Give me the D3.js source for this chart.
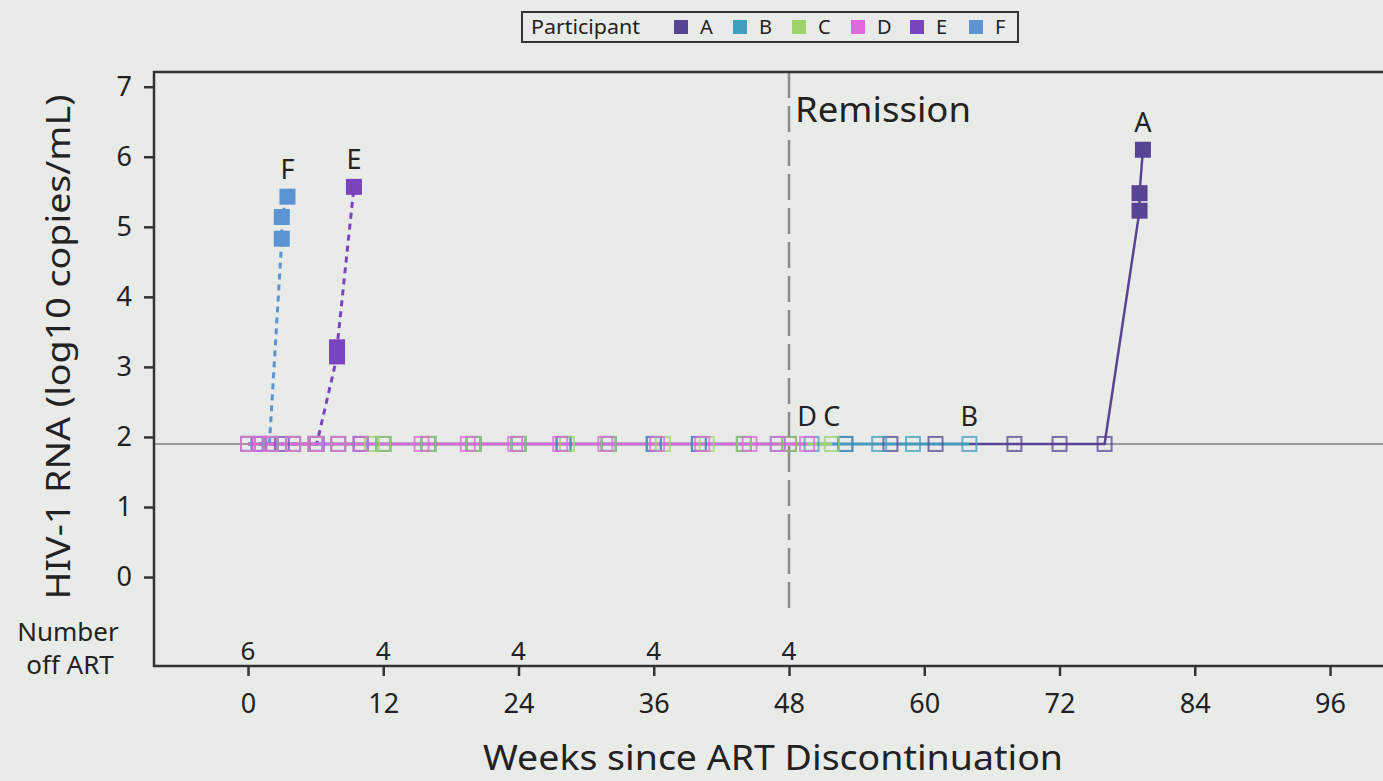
<!DOCTYPE html>
<html>
<head>
<meta charset="utf-8">
<script src="https://cdn.jsdelivr.net/npm/d3@7"></script>
<style>
  body { margin: 0; background: #e9ebe9; overflow: hidden; }
  text { font-family: "Noto Sans", sans-serif; fill: #222; }
</style>
</head>
<body>
<script>
var svg_width = 1383;
var svg_height = 781;

// participants and colours
var participants = ['A', 'B', 'C', 'D', 'E', 'F'];
var colors = ['#574494', '#3f9fbf', '#9ed36a', '#e067de', '#7a44c0', '#5b93d3'];
var dashed = [false, false, false, false, true, true];

// weeks since ART discontinuation / log10 RNA per participant (1.9 = undetectable)
var weeksA = [0, 2, 4, 6, 8, 10, 12, 16, 20, 24, 28, 32, 36, 40, 44, 48, 53, 57, 61, 68, 72, 76, 79.1, 79.1, 79.4];
var rnaA   = [1.9, 1.9, 1.9, 1.9, 1.9, 1.9, 1.9, 1.9, 1.9, 1.9, 1.9, 1.9, 1.9, 1.9, 1.9, 1.9, 1.9, 1.9, 1.9, 1.9, 1.9, 1.9, 5.23, 5.48, 6.1];
var weeksB = [0, 2, 4, 6, 8, 10, 12, 16, 20, 24, 28, 32, 36, 40, 44, 47, 50, 53, 56, 59, 64];
var rnaB   = [1.9, 1.9, 1.9, 1.9, 1.9, 1.9, 1.9, 1.9, 1.9, 1.9, 1.9, 1.9, 1.9, 1.9, 1.9, 1.9, 1.9, 1.9, 1.9, 1.9, 1.9];
var weeksC = [0, 2, 4, 6, 8, 11, 12, 16, 20, 24, 28.3, 32, 36.8, 40.7, 44, 48, 51.8];
var rnaC   = [1.9, 1.9, 1.9, 1.9, 1.9, 1.9, 1.9, 1.9, 1.9, 1.9, 1.9, 1.9, 1.9, 1.9, 1.9, 1.9, 1.9];
var weeksD = [0, 1, 2, 4, 6, 8, 10, 15.4, 19.5, 23.7, 27.7, 31.7, 36.3, 40.3, 44.5, 47, 49.6];
var rnaD   = [1.9, 1.9, 1.9, 1.9, 1.9, 1.9, 1.9, 1.9, 1.9, 1.9, 1.9, 1.9, 1.9, 1.9, 1.9, 1.9, 1.9];
var weeksE = [0, 1, 3, 6.1, 7.9, 7.9, 9.4];
var rnaE   = [1.9, 1.9, 1.9, 1.9, 3.15, 3.28, 5.57];
var weeksF = [0.9, 1.9, 3.0, 3.0, 3.5];
var rnaF   = [1.9, 1.9, 4.83, 5.14, 5.43];

var allWeeks = [weeksA, weeksB, weeksC, weeksD, weeksE, weeksF];
var allRna = [rnaA, rnaB, rnaC, rnaD, rnaE, rnaF];

var limit = 1.9;
var remissionWeek = 48;

// number off ART row
var offWeeks = [0, 12, 24, 36, 48];
var offCounts = [6, 4, 4, 4, 4];

var xTicks = [0, 12, 24, 36, 48, 60, 72, 84, 96];
var yTicks = [0, 1, 2, 3, 4, 5, 6, 7];

var plotLeft = 154, plotTop = 72, plotBottom = 666, plotRight = 1383;

var svg = d3.select('body').append('svg')
            .attr('width', svg_width)
            .attr('height', svg_height);

var xscale = d3.scaleLinear().domain([-8.34, 100.7]).range([plotLeft, plotRight]);
var yscale = d3.scaleLinear().domain([-1.27, 7.21]).range([plotBottom, plotTop]);

// reference line at detection limit
svg.append('line')
    .attr('x1', plotLeft).attr('x2', plotRight)
    .attr('y1', yscale(limit)).attr('y2', yscale(limit))
    .attr('stroke', '#9a9c9a').attr('stroke-width', 2);

// remission line
svg.append('line')
    .attr('x1', xscale(remissionWeek)).attr('x2', xscale(remissionWeek))
    .attr('y1', plotTop).attr('y2', plotBottom - 50)
    .attr('stroke', '#8a8c8a').attr('stroke-width', 2.5)
    .attr('stroke-dasharray', '26,8');
svg.append('text')
    .attr('x', xscale(remissionWeek) + 6).attr('y', 122)
    .attr('font-size', 34).attr('textLength', 176).attr('lengthAdjust', 'spacingAndGlyphs')
    .text('Remission');

// frame
svg.append('path')
    .attr('d', 'M' + plotRight + ',' + plotTop + 'H' + plotLeft + 'V' + plotBottom + 'H' + plotRight)
    .attr('stroke', '#333').attr('stroke-width', 2.5).attr('fill', 'none');

var xaxis = d3.axisBottom(xscale).tickValues(xTicks).tickSize(10).tickPadding(18);
var yaxis = d3.axisLeft(yscale).tickValues(yTicks).tickSize(10).tickPadding(12);

var gx = svg.append('g')
    .attr('transform', 'translate(0,' + plotBottom + ')')
    .call(xaxis);
var gy = svg.append('g')
    .attr('transform', 'translate(' + plotLeft + ',0)')
    .call(yaxis);
[gx, gy].forEach(function(g) {
  g.select('.domain').remove();
  g.selectAll('line').attr('stroke', '#333').attr('stroke-width', 2.5);
  g.selectAll('text').attr('font-size', 27).attr('font-family', '"Noto Sans", sans-serif').attr('fill', '#222');
});

// axis titles
svg.append('text')
    .attr('transform', 'translate(70,' + 347 + ') rotate(-90)')
    .attr('text-anchor', 'middle').attr('font-size', 33)
    .attr('textLength', 505).attr('lengthAdjust', 'spacingAndGlyphs')
    .text('HIV-1 RNA (log10 copies/mL)');
svg.append('text')
    .attr('x', 773).attr('y', 770)
    .attr('text-anchor', 'middle').attr('font-size', 34)
    .attr('textLength', 580).attr('lengthAdjust', 'spacingAndGlyphs')
    .text('Weeks since ART Discontinuation');

// number off ART
svg.append('text').attr('x', 68).attr('y', 641).attr('text-anchor', 'middle').attr('font-size', 26).text('Number');
svg.append('text').attr('x', 70).attr('y', 674).attr('text-anchor', 'middle').attr('font-size', 26).text('off ART');
svg.selectAll('.offart').data(offWeeks).enter().append('text')
    .attr('x', function(d) { return xscale(d); })
    .attr('y', 660)
    .attr('text-anchor', 'middle').attr('font-size', 26)
    .text(function(d, i) { return offCounts[i]; });

// series lines (draw order so that D ends on top)
var order = [5, 4, 0, 1, 2, 3];
var line = d3.line()
    .x(function(d) { return xscale(d[0]); })
    .y(function(d) { return yscale(d[1]); });

order.forEach(function(p) {
  var pts = allWeeks[p].map(function(w, i) { return [w, allRna[p][i]]; });
  svg.append('path')
      .attr('d', line(pts))
      .attr('fill', 'none')
      .attr('stroke', colors[p])
      .attr('stroke-width', dashed[p] ? 3 : 2.5)
      .attr('stroke-dasharray', dashed[p] ? '6,5' : null);
});

// markers
order.forEach(function(p) {
  var pts = allWeeks[p].map(function(w, i) { return [w, allRna[p][i]]; });
  svg.selectAll('.m' + p).data(pts).enter().append('rect')
      .attr('x', function(d) { return xscale(d[0]) - 7; })
      .attr('y', function(d) { return yscale(d[1]) - 7; })
      .attr('width', 14).attr('height', 14)
      .attr('fill', function(d) { return d[1] > limit ? colors[p] : 'none'; })
      .attr('stroke', colors[p])
      .attr('stroke-opacity', function(d) { return d[1] > limit ? 1 : 0.75; })
      .attr('stroke-width', 2);
  // end label
  var last = pts[pts.length - 1];
  svg.append('text')
      .attr('x', xscale(last[0]))
      .attr('y', yscale(last[1]) - 18)
      .attr('text-anchor', 'middle').attr('font-size', 27)
      .text(participants[p]);
});

// legend
var lg = svg.append('g');
lg.append('rect').attr('x', 522).attr('y', 12).attr('width', 496).attr('height', 30)
    .attr('fill', 'none').attr('stroke', '#333').attr('stroke-width', 2);
lg.append('text').attr('x', 531).attr('y', 34).attr('font-size', 20)
    .attr('textLength', 109).attr('lengthAdjust', 'spacingAndGlyphs').text('Participant');
participants.forEach(function(name, i) {
  lg.append('rect').attr('x', 674 + i * 59).attr('y', 20).attr('width', 14).attr('height', 14)
      .attr('fill', colors[i]);
  lg.append('text').attr('x', 700 + i * 59).attr('y', 34).attr('font-size', 20).text(name);
});
</script>
</body>
</html>
